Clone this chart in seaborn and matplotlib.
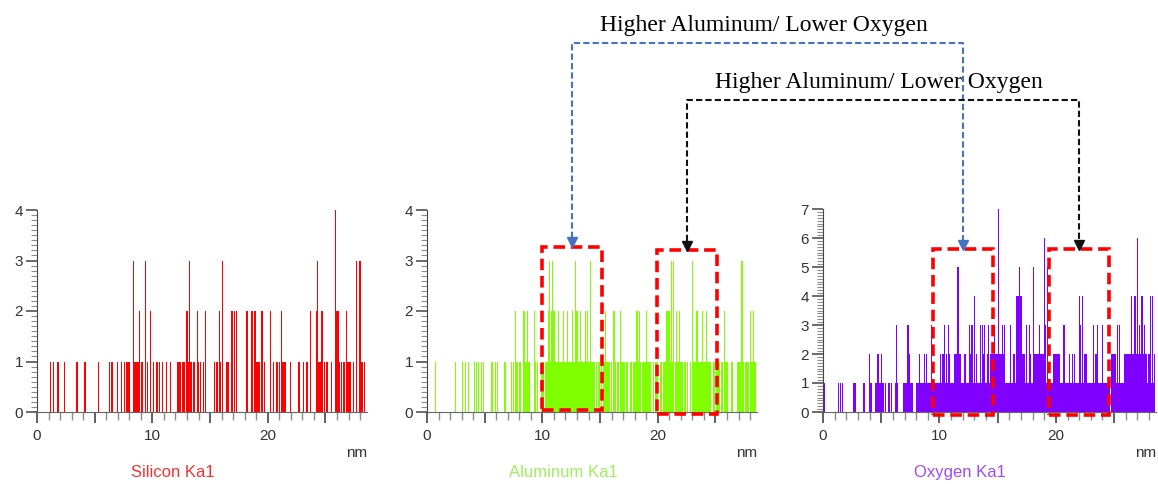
import numpy as np
import pandas as pd
import matplotlib
matplotlib.use("Agg")
import matplotlib.pyplot as plt
import seaborn as sns
from matplotlib.lines import Line2D
from matplotlib.patches import Rectangle
from matplotlib.ticker import MultipleLocator

# EDS line scan counts, one digit per 0.1 nm bin, 0 .. 28.5 nm
silicon = (
    "0000000000" "0010100011" "0000100000" "0000110000" "0110000000"
    "0001000000" "0001010000" "1001001011" "1000311112" "0100301020"
    "0100101001" "0010001000" "0011101110" "2131101002" "1010102000"
    "0000101021" "0300111002" "0202000000" "0020002202" "1111020100"
    "0020010010" "1021110000" "1000000100" "0100100200" "0023111201"
    "0110010004" "2210101021" "1110100300" "311010"
)
aluminum = (
    "0000000100" "0000000000" "0000010000" "0101001000" "0101010101"
    "0000001101" "0100000110" "0001010210" "1100211211" "0002101001"
    "1101123123" "2111211121" "1121112113" "2112111212" "1131110101"
    "0101121110" "1021011021" "1101101101" "1121210111" "2111101011"
    "1011011122" "2131312112" "1101101010" "3111211112" "1121111011"
    "0111011021" "1000110001" "1113101111" "211211"
)
oxygen = (
    "2100000000" "0001010100" "0000001110" "0000011000" "2110011221"
    "2110101101" "0013100001" "1113211100" "1112111212" "1113111111"
    "1212312132" "1112225221" "1121113231" "4121131323" "1231222322"
    "2722323111" "1311214445" "4222131321" "1522223222" "6315111122"
    "2222111311" "1121212111" "4314122111" "1131223111" "3111111022"
    "2213131112" "2222242242" "6232423221" "241412"
)

names = ["Silicon Ka1", "Aluminum Ka1", "Oxygen Ka1"]
bar_colors = ["#ff0000", "#80ff00", "#8000ff"]
title_colors = ["#f03434", "#9cf05c", "#a04cf4"]
y_max = [4, 4, 7]

# highlighted regions (x0, x1, y0, y1) in nm / counts
al_boxes = [(9.93, 15.18, 0.04, 3.27), (19.97, 25.17, -0.03, 3.2)]
o_boxes = [(9.47, 14.62, -0.1, 5.61), (19.43, 24.58, -0.1, 5.61)]
note = "Higher Aluminum/ Lower Oxygen"

W, H = 1158, 484
sns.set_style("white")
plt.rcParams["font.family"] = ["Liberation Sans", "DejaVu Sans"]

fig = plt.figure(figsize=(W / 100, H / 100), dpi=100)

# axes boxes in pixels: left, right, bottom, top
frames = [(37, 367, 412, 210), (427, 757, 412, 210), (823, 1156, 412, 209)]
axes = []
for i, series in enumerate([silicon, aluminum, oxygen]):
    l, r, b, t = frames[i]
    ax = fig.add_axes([l / W, 1 - b / H, (r - l) / W, (b - t) / H])
    counts = [int(c) for c in series]
    df = pd.DataFrame({"nm": np.arange(len(counts)) * 0.1, "counts": counts})
    sns.histplot(data=df, x="nm", weights="counts", binwidth=0.1,
                 binrange=(-0.05, 28.55), color=bar_colors[i], alpha=1,
                 linewidth=0, ax=ax)
    ax.set_xlim(0, 28.6)
    ax.set_ylim(0, y_max[i])
    ax.set_xlabel("")
    ax.set_ylabel("")
    sns.despine(ax=ax)
    ax.spines["left"].set_color("#444444")
    ax.spines["bottom"].set_color("#666666")
    ax.xaxis.set_major_locator(MultipleLocator(5))
    ax.xaxis.set_major_formatter(lambda v, p: f"{v:.0f}" if round(v) % 10 == 0 else "")
    ax.xaxis.set_minor_locator(MultipleLocator(1))
    ax.yaxis.set_major_locator(MultipleLocator(1))
    ax.yaxis.set_minor_locator(MultipleLocator(0.1))
    ax.tick_params(which="both", bottom=True, left=True, direction="out")
    ax.tick_params(axis="x", which="major", length=8, width=1.2, color="#444444",
                   labelsize=11, labelcolor="#333333", pad=4)
    ax.tick_params(axis="x", which="minor", length=6, width=1, color="#8c8c8c")
    ax.tick_params(axis="y", which="major", length=8, width=1.1, color="#444444",
                   labelsize=11, labelcolor="#333333", pad=2)
    ax.tick_params(axis="y", which="minor", length=4.5, width=0.8, color="#8c8c8c")
    ax.text(1.0, -41 / (b - t), "nm", transform=ax.transAxes, ha="right",
            va="center", fontsize=11, color="#333333")
    ax.text(11.8, -60 / (b - t), names[i], transform=ax.get_xaxis_transform(),
            ha="center", va="center", fontsize=12, color=title_colors[i])
    axes.append(ax)

ax_al, ax_o = axes[1], axes[2]
for ax, boxes in [(ax_al, al_boxes), (ax_o, o_boxes)]:
    for x0, x1, y0, y1 in boxes:
        ax.add_patch(Rectangle((x0, y0), x1 - x0, y1 - y0, fill=False, ec="#ff0000",
                               lw=2.6, ls=(0, (3.2, 1.6)), clip_on=False, zorder=5))


def top_center(ax, box):
    x0, x1, y0, y1 = box
    return fig.transFigure.inverted().transform(ax.transData.transform(((x0 + x1) / 2, y1)))


links = [(al_boxes[0], o_boxes[0], 43, "#4472c4"), (al_boxes[1], o_boxes[1], 100, "#111111")]
head = 9 / H
for a_box, o_box, level, color in links:
    pa = top_center(ax_al, a_box)
    pb = top_center(ax_o, o_box)
    ly = 1 - level / H
    fig.add_artist(Line2D([pa[0], pa[0], pb[0], pb[0]], [pa[1] + head, ly, ly, pb[1] + head],
                          color=color, lw=1.5, ls=(0, (3, 1.5)), transform=fig.transFigure))
    for p in (pa, pb):
        fig.add_artist(Line2D([p[0]], [p[1] + head / 2], marker="v", ms=7, color=color,
                              transform=fig.transFigure))
    fig.text((pa[0] + pb[0]) / 2 - 4 / W, ly + 17 / H, note, ha="center", va="center",
             fontsize=17, family=["Liberation Serif", "DejaVu Serif"], color="black")

fig.savefig("out.png", dpi=100)
